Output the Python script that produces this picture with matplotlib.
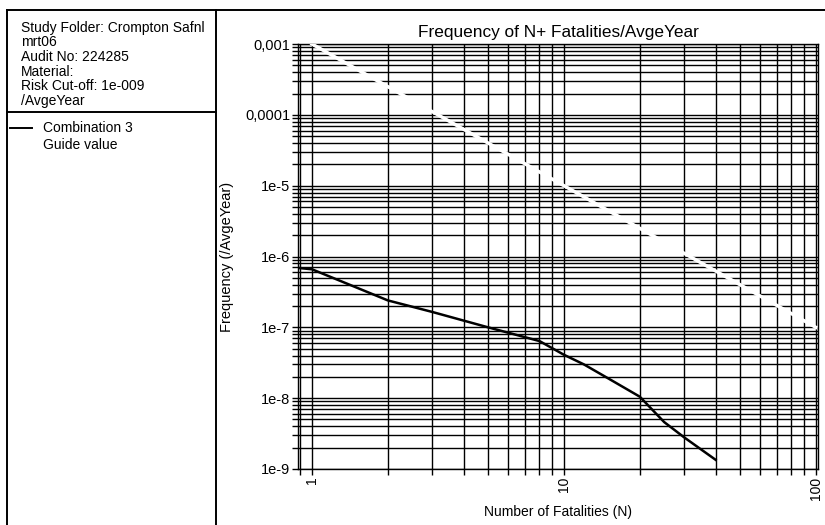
import matplotlib
matplotlib.use("Agg")
import matplotlib.pyplot as plt
from matplotlib.lines import Line2D
from matplotlib.ticker import FixedLocator, LogLocator, NullFormatter

plt.rcParams['font.family'] = ['Liberation Sans', 'DejaVu Sans']

# FN curve
n_fatalities = [0.88, 1, 2, 3, 5, 8, 10, 12, 15, 20, 25, 30, 40]
frequency = [6.9e-7, 6.6e-7, 2.4e-7, 1.65e-7, 1.0e-7, 6.4e-8, 4.1e-8,
             3.0e-8, 1.9e-8, 1.05e-8, 4.6e-9, 2.8e-9, 1.35e-9]

# guide value line end points
guide_n = [1, 100]
guide_freq = [1e-3, 1e-7]

y_ticks = [1e-9, 1e-8, 1e-7, 1e-6, 1e-5, 1e-4, 1e-3]
y_labels = ['1e-9', '1e-8', '1e-7', '1e-6', '1e-5', '0,0001', '0,001']
x_ticks = [1, 10, 100]
x_labels = ['1', '10', '100']

info_lines = ['Study Folder: Crompton Safnl', 'mrt06', 'Audit No: 224285',
              'Material:', 'Risk Cut-off: 1e-009', '/AvgeYear']

W, H = 825, 525


def fx(x):
    return x / W


def fy(y):
    return 1 - y / H


fig = plt.figure(figsize=(W / 100, H / 100), dpi=100)
ax = fig.add_axes([fx(298), fy(469), fx(818) - fx(298), fy(44) - fy(469)])

ax.set_xscale('log')
ax.set_yscale('log')
ax.set_xlim(0.88, 102)
ax.set_ylim(1e-9, 1e-3)

# dense black log grid
ax.xaxis.set_major_locator(FixedLocator(x_ticks))
ax.xaxis.set_minor_locator(LogLocator(base=10, subs=range(2, 10)))
ax.xaxis.set_minor_formatter(NullFormatter())
ax.yaxis.set_major_locator(FixedLocator(y_ticks))
ax.yaxis.set_minor_locator(LogLocator(base=10, subs=range(2, 10), numticks=20))
ax.yaxis.set_minor_formatter(NullFormatter())
ax.set_xticklabels(x_labels, rotation=90, fontsize=10)
ax.set_yticklabels(y_labels, fontsize=10.5)
ax.grid(True, which='both', color='black', linewidth=1.0)
ax.tick_params(which='both', direction='out', length=4, width=1.0,
               color='black', pad=1.5)
for s in ax.spines.values():
    s.set_linewidth(1.0)
    s.set_color('black')

ax.plot(guide_n, guide_freq, color='white', linewidth=2.5, zorder=3)
ax.plot(n_fatalities, frequency, color='black', linewidth=1.8, zorder=4)

ax.set_title('Frequency of N+ Fatalities/AvgeYear', fontsize=12.4, pad=5)
ax.set_xlabel('Number of Fatalities (N)', fontsize=10)
ax.set_ylabel('Frequency (/AvgeYear)', fontsize=10.5, labelpad=8)

# frame and left info panel
frame_kw = dict(color='black', linewidth=1.4)
fig.add_artist(Line2D([fx(7), 1.0], [fy(10), fy(10)], **frame_kw))
fig.add_artist(Line2D([fx(7), fx(7)], [fy(10), 0], **frame_kw))
fig.add_artist(Line2D([fx(216), fx(216)], [fy(10), 0], **frame_kw))
fig.add_artist(Line2D([fx(7), fx(216)], [fy(112), fy(112)], **frame_kw))

for i, line in enumerate(info_lines):
    fig.text(fx(21), fy(28 + 14.5 * i), line, fontsize=10, va='center', ha='left')

fig.add_artist(Line2D([fx(10), fx(32)], [fy(128), fy(128)], color='black', linewidth=1.4))
fig.text(fx(43), fy(128), 'Combination 3', fontsize=10, va='center', ha='left')
fig.text(fx(43), fy(145), 'Guide value', fontsize=10, va='center', ha='left')

fig.savefig('out.png', dpi=100)
